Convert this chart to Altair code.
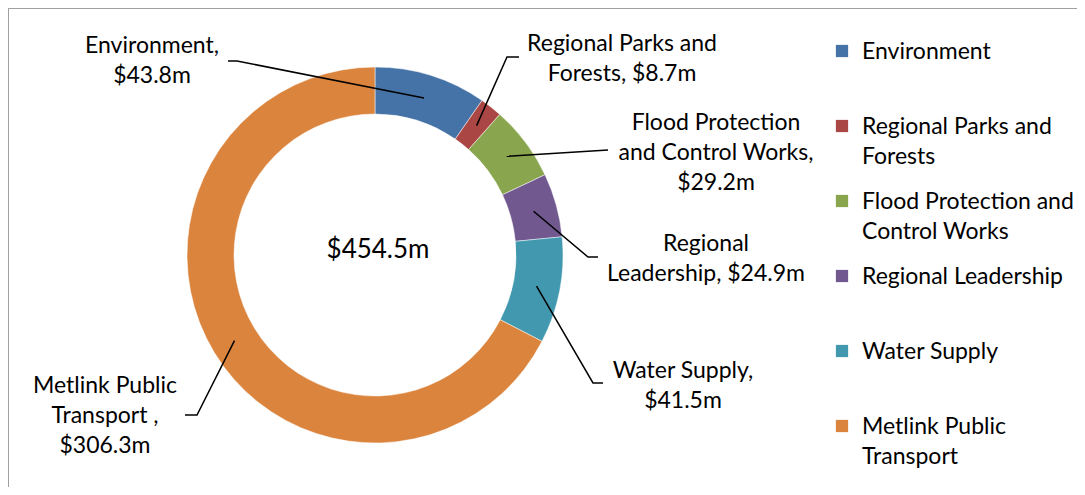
import math
import altair as alt
import pandas as pd

# ---- data ----
categories = ["Environment", "Regional Parks and Forests",
              "Flood Protection and Control Works", "Regional Leadership",
              "Water Supply", "Metlink Public Transport"]
values = [43.8, 8.7, 29.2, 24.9, 41.5, 306.3]
label_lines = [
    ["Environment,", "$43.8m"],
    ["Regional Parks and", "Forests, $8.7m"],
    ["Flood Protection", "and Control Works,", "$29.2m"],
    ["Regional", "Leadership, $24.9m"],
    ["Water Supply,", "$41.5m"],
    ["Metlink Public", "Transport ,", "$306.3m"],
]
legend_lines = [
    ["Environment"],
    ["Regional Parks and", "Forests"],
    ["Flood Protection and", "Control Works"],
    ["Regional Leadership"],
    ["Water Supply"],
    ["Metlink Public", "Transport"],
]
total_label = "$454.5m"
colors = ["#4572A7", "#AA4643", "#89A54E", "#71588F", "#4198AF", "#DB843D"]

# ---- layout (chart pixel coordinates, origin top-left of plot) ----
W, H = 1069, 479
CX, CY = 367, 247
R_OUT, R_IN = 188, 141
FONT = "Lato"
FS = 23
LINE_H = 30
label_anchor = [(144, 38), (614, 36), (708, 115), (698, 236), (675, 363), (97, 378)]
leader_start = [(220, 53), (511, 49), (600, 142), (590, 249), (595, 375), (177, 407)]
leader_elbow = [(229, 53), (499, 49), (None, None), (580, 249), (585, 375), (189, 407)]
legend_x, legend_y0, legend_step = 834, 43, 75

xs = alt.Scale(domain=[0, W], nice=False, zero=False)
ys = alt.Scale(domain=[0, H], nice=False, zero=False, reverse=True)
X = lambda f: alt.X(f"{f}:Q", scale=xs, axis=None)
Y = lambda f: alt.Y(f"{f}:Q", scale=ys, axis=None)

df = pd.DataFrame({"category": categories, "value": values, "idx": range(len(values))})
color = alt.Color("category:N", scale=alt.Scale(domain=categories, range=colors), legend=None)

arcs = alt.Chart(df).mark_arc(outerRadius=R_OUT, innerRadius=R_IN, stroke="white",
                               strokeWidth=0.5).encode(
    theta=alt.Theta("value:Q", stack=True),
    color=color,
    order=alt.Order("idx:Q"),
    x=alt.value(CX), y=alt.value(CY),
)

# leader lines: from label to the middle of the ring at the slice's mid angle
total = sum(values)
rows = []
cum = 0.0
r_mid = (R_OUT + R_IN) / 2
for i, v in enumerate(values):
    mid = (cum + v / 2) / total * 2 * math.pi
    cum += v
    px = CX + r_mid * math.sin(mid)
    py = CY - r_mid * math.cos(mid)
    pts = [leader_start[i]]
    if leader_elbow[i][0] is not None:
        pts.append(leader_elbow[i])
    pts.append((px, py))
    for k, (a, b) in enumerate(pts):
        rows.append({"seg": i, "k": k, "px": a, "py": b})
lines = alt.Chart(pd.DataFrame(rows)).mark_line(color="black", strokeWidth=1.5).encode(
    x=X("px"), y=Y("py"), detail="seg:N", order="k:Q")

trows = []
for i, ls in enumerate(label_lines):
    for j, t in enumerate(ls):
        trows.append({"t": t, "px": label_anchor[i][0], "py": label_anchor[i][1] + j * LINE_H})
texts = alt.Chart(pd.DataFrame(trows)).mark_text(
    font=FONT, fontSize=FS, align="center", baseline="middle", color="black").encode(
    x=X("px"), y=Y("py"), text="t:N")

center = alt.Chart(pd.DataFrame({"t": [total_label], "px": [CX + 3], "py": [CY - 5]})).mark_text(
    font=FONT, fontSize=26, align="center", baseline="middle", color="black").encode(
    x=X("px"), y=Y("py"), text="t:N")

# legend
sq = pd.DataFrame({"category": categories,
                   "px": [legend_x] * len(categories),
                   "py": [legend_y0 + i * legend_step for i in range(len(categories))]})
legend_sq = alt.Chart(sq).mark_square(size=150, opacity=1).encode(
    x=X("px"), y=Y("py"), color=color)
lrows = []
for i, ls in enumerate(legend_lines):
    for j, t in enumerate(ls):
        lrows.append({"t": t, "px": legend_x + 20, "py": legend_y0 + 1 + i * legend_step + j * LINE_H})
legend_txt = alt.Chart(pd.DataFrame(lrows)).mark_text(
    font=FONT, fontSize=FS, align="left", baseline="middle", color="black").encode(
    x=X("px"), y=Y("py"), text="t:N")

# frame (top and left edges visible in the crop)
frame = alt.Chart(pd.DataFrame({"px": [0, 0, W], "py": [H, 0, 0]})).mark_line(
    color="#A0A0A0", strokeWidth=2).encode(x=X("px"), y=Y("py"), order=alt.Order("ord:Q")).transform_window(
    ord="row_number()")

chart = alt.layer(frame, arcs, lines, texts, center, legend_sq, legend_txt).properties(
    width=W, height=H, padding=0, autosize=alt.AutoSizeParams(type="none")
).configure_view(stroke=None)

chart.save("out.html", embed_options={"renderer": "svg", "actions": False})
